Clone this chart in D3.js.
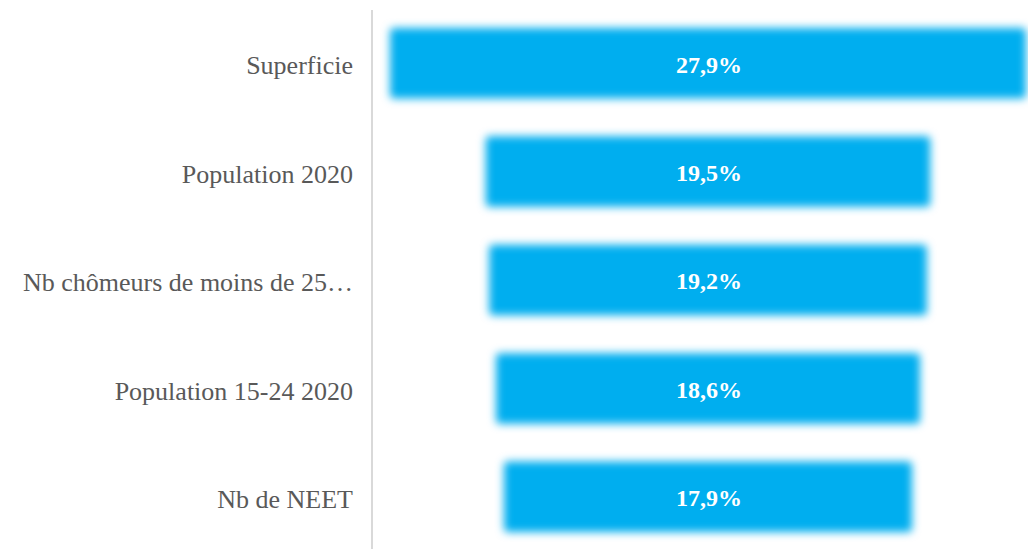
<!DOCTYPE html>
<html><head><meta charset="utf-8">
<script src="https://cdn.jsdelivr.net/npm/d3@7"></script>
<style>html,body{margin:0;padding:0;background:#fff;}svg{display:block;}</style>
</head><body>
<script>
const categories = ["Superficie","Population 2020","Nb chômeurs de moins de 25…","Population 15-24 2020","Nb de NEET"];
const values = [27.9, 19.5, 19.2, 18.6, 17.9];
const valueLabels = ["27,9%","19,5%","19,2%","18,6%","17,9%"];

const W = 1028, H = 549;
const FONT = "'Liberation Serif', 'Times New Roman', 'DejaVu Serif', serif";
const svg = d3.select("body").append("svg").attr("width", W).attr("height", H);
const defs = svg.append("defs");
defs.append("filter").attr("id","soft").attr("x","-10%").attr("y","-30%").attr("width","120%").attr("height","160%")
  .append("feGaussianBlur").attr("stdDeviation", 4.5);

const cx = 708;
const x = d3.scaleLinear().domain([0, 27.9]).range([0, 636]);
const y = d3.scaleBand().domain(categories).range([9, 551]).paddingInner(0.35).paddingOuter(0.175);

svg.append("line").attr("x1",372).attr("x2",372).attr("y1",10).attr("y2",H)
  .attr("stroke","#d9d9d9").attr("stroke-width",2);

const g = svg.append("g");
g.selectAll("rect").data(categories).join("rect")
  .attr("x", (d,i) => cx - x(values[i])/2)
  .attr("y", d => y(d))
  .attr("width", (d,i) => x(values[i]))
  .attr("height", y.bandwidth())
  .attr("rx", 4)
  .attr("fill", "#00AEEF")
  .attr("filter", "url(#soft)");

g.selectAll("text.v").data(categories).join("text").attr("class","v")
  .attr("x", cx + 1).attr("y", d => y(d) + y.bandwidth()/2 + 1)
  .attr("dy","0.35em").attr("text-anchor","middle")
  .attr("font-family", FONT).attr("font-weight","bold")
  .attr("font-size", 24).attr("fill","#fff")
  .text((d,i) => valueLabels[i]);

g.selectAll("text.c").data(categories).join("text").attr("class","c")
  .attr("x", 353).attr("y", d => y(d) + y.bandwidth()/2 + 2)
  .attr("dy","0.35em").attr("text-anchor","end")
  .attr("font-family", FONT)
  .attr("font-size", 26).attr("fill","#595959")
  .text(d => d);
</script>
</body></html>
